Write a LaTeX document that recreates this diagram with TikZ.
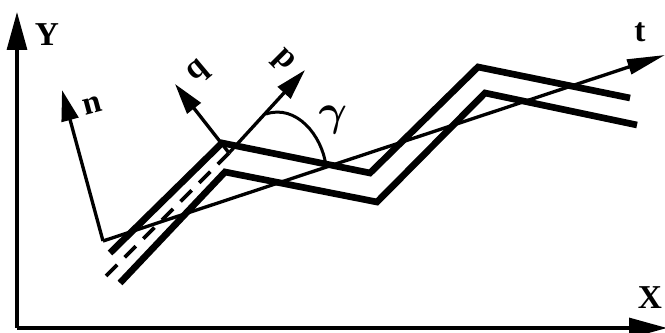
\documentclass[tikz,border=0pt]{standalone}
\usepackage{fontspec}
\setmainfont{Liberation Serif}
\usetikzlibrary{arrows.meta}

\begin{document}
\begin{tikzpicture}[
        x=0.02cm, y=-0.02cm,
        axis/.style={line width=1.8pt, -{Triangle[length=0.76cm, width=0.4cm]}},
        vec/.style={line width=1.9pt, -{Triangle[length=0.62cm, width=0.34cm]}},
        band/.style={line width=3.8pt, line join=miter},
        lbl/.style={font={\fontsize{19}{22}\selectfont\bfseries}, inner sep=0pt},
        glbl/.style={font={\fontsize{26}{28}\selectfont\boldmath}, inner sep=0pt}
    ]
        \useasboundingbox (0,0) rectangle (665,333);

        % axes
        \coordinate (o) at (17,328);
        \coordinate (ytip) at (17,12);
        \coordinate (xtip) at (667,328);
        \draw[axis] (o) -- (ytip);
        \draw[axis] (o) -- (xtip);
        \node[lbl] (ylab) at (47,35) {Y};
        \node[lbl] (xlab) at (650,298) {X};

        % the two bands
        \coordinate (a1) at (110,253);
        \coordinate (a2) at (222,143);
        \coordinate (a3) at (370,173);
        \coordinate (a4) at (478,67);
        \coordinate (a5) at (630,98);
        \coordinate (b1) at (120,283);
        \coordinate (b2) at (225,172);
        \coordinate (b3) at (377,202);
        \coordinate (b4) at (485,93);
        \coordinate (b5) at (637,125);
        \draw[band] (a1) -- (a2) -- (a3) -- (a4) -- (a5);
        \draw[band] (b1) -- (b2) -- (b3) -- (b4) -- (b5);

        % mid line
        \coordinate (m0) at (106,276);
        \coordinate (m1) at (229,153);
        \draw[line width=2.2pt, dash pattern=on 9pt off 6pt] (m0) -- (m1);

        % frame n, t
        \coordinate (c) at (103,241);
        \coordinate (ntip) at (62,90);
        \coordinate (ttip) at (665,55);
        \draw[vec] (c) -- (ntip);
        \draw[line width=1.9pt, -{Triangle[length=0.76cm, width=0.3cm]}] (c) -- (ttip);
        \node[lbl, rotate=15] (nlab) at (92,106) {n};
        \node[lbl] (tlab) at (640,32) {t};

        % frame p, q
        \coordinate (ptip) at (305,70);
        \coordinate (qtip) at (175,84);
        \draw[vec] (m1) -- (ptip);
        \draw[vec] (m1) -- (qtip);
        \node[lbl, rotate=-45] (plab) at (283,61) {p};
        \node[lbl, rotate=40] (qlab) at (199,72) {q};

        % angle
        \coordinate (g0) at (266,114);
        \coordinate (g1) at (326,166);
        \draw[line width=1.7pt] (g0) .. controls (296,104) and (322,135) .. (g1);
        \node[glbl] (glab) at (333,120) {$\gamma$};
    \end{tikzpicture}
\end{document}
